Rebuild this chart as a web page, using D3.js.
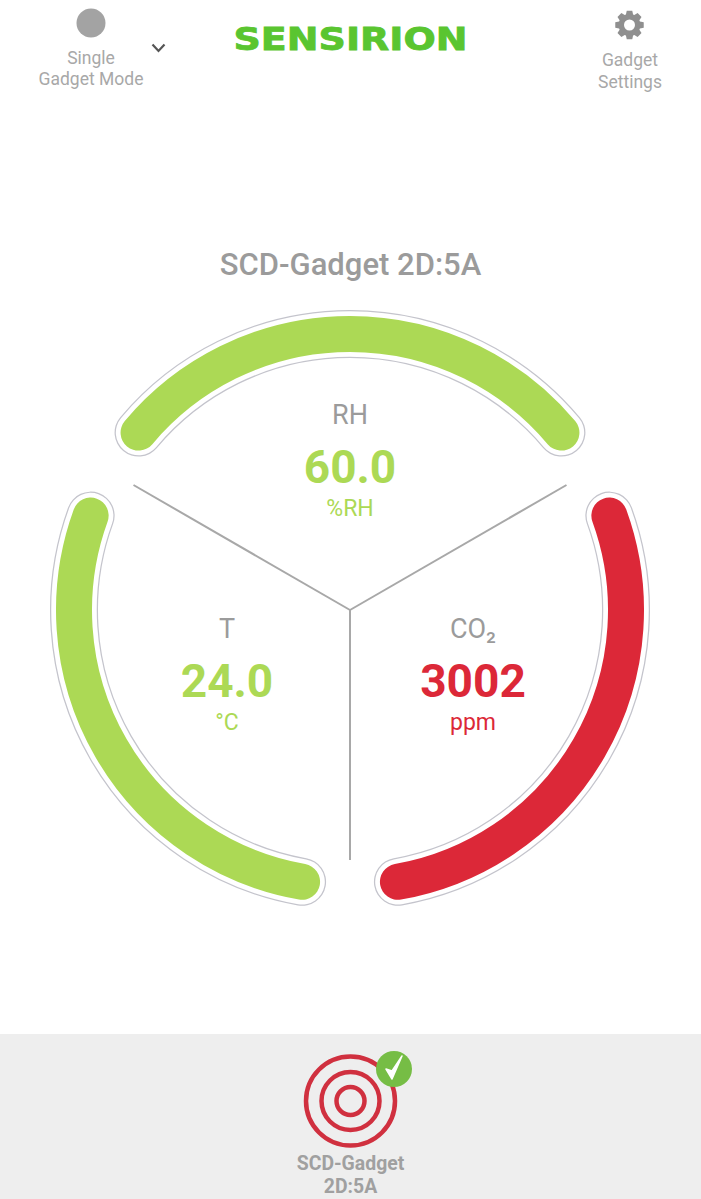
<!DOCTYPE html>
<html>
<head>
<meta charset="utf-8">
<script src="https://cdn.jsdelivr.net/npm/d3@7"></script>
<style>
  html, body { margin: 0; padding: 0; background: #fff; overflow: hidden; }
  svg { display: block; font-family: Roboto, sans-serif; }
</style>
</head>
<body>
<svg id="chart" width="701" height="1199"></svg>
<script>
// sensor readings, clockwise from the top
const sensors = ['RH', 'CO₂', 'T'];
const values = ['60.0', '3002', '24.0'];
const units = ['%RH', 'ppm', '°C'];
const colors = ['#acd955', '#dc2838', '#acd955'];
const divider_angles = [-60, 60, 180];
const ring_radii = [44.5, 29, 14];

const cx = 350, cy = 610;

let svg = d3.select('#chart');

// three gauges of 100 degrees with 20 degree gaps
let angle = d3.scaleBand()
  .domain(sensors)
  .range([-60, 300])
  .paddingInner(1 / 6)
  .paddingOuter(1 / 12);

let rad = d => d * Math.PI / 180;

// open arc so the stroke gets round caps
function gauge_arc(d) {
  let p = d3.path();
  p.arc(0, 0, 276, rad(angle(d) - 90), rad(angle(d) + angle.bandwidth() - 90));
  return p.toString();
}

/*
 * Header.
 */
let header = svg.append('g').style('fill', '#a8a8a8').style('font-size', '17.5px').attr('text-anchor', 'middle');

header.append('circle').attr('cx', 91).attr('cy', 23).attr('r', 14.5).style('fill', '#a3a3a3');
header.append('text').attr('x', 91).attr('y', 64).text('Single');
header.append('text').attr('x', 91).attr('y', 85).text('Gadget Mode');
header.append('text').attr('x', 630).attr('y', 66).text('Gadget');
header.append('text').attr('x', 630).attr('y', 88).text('Settings');

svg.append('path')
  .attr('d', 'M152.5,44.5 L158.5,51 L164.5,44.5')
  .style('fill', 'none')
  .style('stroke', '#555')
  .style('stroke-width', 2.2);

svg.append('text')
  .attr('x', 233.5).attr('y', 49.5)
  .attr('textLength', 234)
  .attr('lengthAdjust', 'spacingAndGlyphs')
  .style('font-family', '"DejaVu Sans", sans-serif')
  .style('font-weight', 'bold')
  .style('font-size', '31.5px')
  .style('fill', '#5ac530')
  .style('stroke', '#5ac530')
  .style('stroke-width', 0.8)
  .text('SENSIRION');

// settings gear
let gear_pts = [];
for (let i = 0; i < 8; i++) {
  let a = i * 45;
  gear_pts.push([a - 19, 11], [a - 11, 14.5], [a + 11, 14.5], [a + 19, 11]);
}
svg.append('path')
  .attr('transform', 'translate(629.5,25)')
  .attr('fill-rule', 'evenodd')
  .attr('d', d3.lineRadial().angle(d => rad(d[0])).radius(d => d[1]).curve(d3.curveLinearClosed)(gear_pts)
    + d3.arc()({ innerRadius: 0, outerRadius: 5.5, startAngle: 0, endAngle: 2 * Math.PI }))
  .style('fill', '#8f8f8f');

svg.append('text')
  .attr('x', 350.5).attr('y', 275)
  .attr('text-anchor', 'middle')
  .style('font-size', '31px')
  .style('font-weight', 500)
  .style('fill', '#9b9b9b')
  .text('SCD-Gadget 2D:5A');

/*
 * Gauges: outline, white gap, then the coloured band.
 */
let g = svg.append('g').attr('transform', `translate(${cx},${cy})`);

let layers = [
  { width: 48, color: '#c4c4cc', fill: null },
  { width: 45.5, color: '#ffffff', fill: null },
  { width: 36, color: null, fill: true },
];

layers.forEach(layer => {
  g.selectAll(null)
    .data(sensors)
    .join('path')
    .attr('d', gauge_arc)
    .style('fill', 'none')
    .style('stroke-linecap', 'round')
    .style('stroke-width', layer.width)
    .style('stroke', (d, i) => layer.fill ? colors[i] : layer.color);
});

g.selectAll('line.divider')
  .data(divider_angles)
  .join('line')
  .attr('class', 'divider')
  .attr('x2', d => 250 * Math.sin(rad(d)))
  .attr('y2', d => -250 * Math.cos(rad(d)))
  .style('stroke', '#a8a8a8')
  .style('stroke-width', 2);

/*
 * Readings.
 */
let label_x = [350, 473, 227];
let label_y = [424, 638, 638];

sensors.forEach((s, i) => {
  let t = svg.append('g').attr('text-anchor', 'middle')
    .attr('transform', `translate(${label_x[i]},${label_y[i]})`);
  t.append('text').style('font-size', '27px').style('fill', '#9b9b9b').text(s);
  t.append('text').attr('y', 59).style('font-size', '46px').style('font-weight', 'bold')
    .style('fill', colors[i]).text(values[i]);
  t.append('text').attr('y', 92).style('font-size', '23px').style('fill', colors[i]).text(units[i]);
});

/*
 * Gadget selector at the bottom.
 */
svg.append('rect').attr('x', 0).attr('y', 1034).attr('width', 701).attr('height', 165).style('fill', '#eeeeee');

svg.selectAll('circle.ring')
  .data(ring_radii)
  .join('circle')
  .attr('class', 'ring')
  .attr('cx', 350.5).attr('cy', 1101)
  .attr('r', d => d)
  .style('fill', 'none')
  .style('stroke', '#d0303f')
  .style('stroke-width', 4.5);

svg.append('circle').attr('cx', 394).attr('cy', 1069).attr('r', 18).style('fill', '#76bd45');
svg.append('path')
  .attr('d', 'M386,1069 L392,1079 L402,1056 L392,1071 Z')
  .style('fill', '#fff')
  .style('stroke', '#fff')
  .style('stroke-width', 1.5)
  .style('stroke-linejoin', 'round');

let foot = svg.append('g').attr('text-anchor', 'middle')
  .style('font-size', '19.4px').style('font-weight', 'bold').style('fill', '#a0a0a0');
foot.append('text').attr('x', 350.5).attr('y', 1170).text('SCD-Gadget');
foot.append('text').attr('x', 350.5).attr('y', 1193).text('2D:5A');
</script>
</body>
</html>
